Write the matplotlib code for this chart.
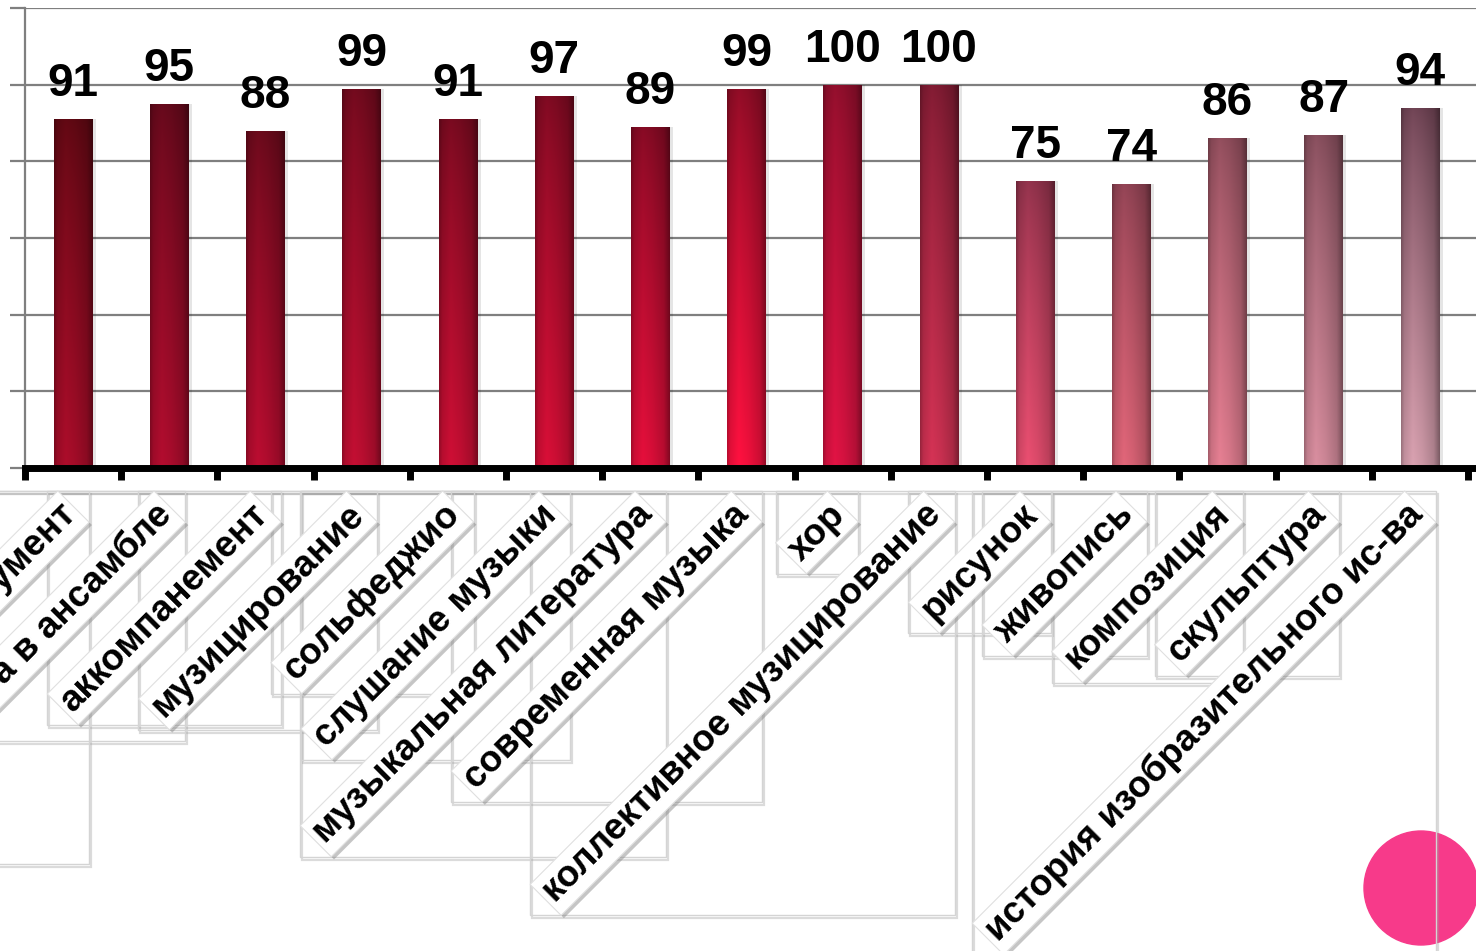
import numpy as np
import matplotlib
matplotlib.use('Agg')
import matplotlib.pyplot as plt
import matplotlib.patheffects as pe
from matplotlib.patches import Rectangle, Ellipse
from matplotlib.colors import to_rgb

plt.rcParams['font.family'] = ['Liberation Sans', 'DejaVu Sans']

subjects = ['специальный инструмент', 'игра в ансамбле', 'аккомпанемент', 'музицирование',
            'сольфеджио', 'слушание музыки', 'музыкальная литература', 'современная музыка',
            'хор', 'коллективное музицирование', 'рисунок', 'живопись', 'композиция',
            'скульптура', 'история изобразительного ис-ва']
scores = [91, 95, 88, 99, 91, 97, 89, 99, 100, 100, 75, 74, 86, 87, 94]

# bar shading: top (dark) and bottom (light) colour of each bar
top_colors = ['#5c0812', '#60091a', '#650a1a', '#6c0a1c', '#720a1e', '#780a20', '#7e0a22',
              '#880c24', '#8a0e2a', '#7a1a30', '#8a3048', '#8a4050', '#8a4a58', '#804a58', '#6a4050']
bottom_colors = ['#a20c28', '#a80c2c', '#b00c2e', '#b80e30', '#c20e32', '#cc0e34', '#d80e38',
                 '#f0103c', '#d41240', '#c83050', '#dc4a6a', '#d46072', '#d8788a', '#cc8696', '#cc98a6']

W, H = 1476, 951
fig = plt.figure(figsize=(W / 100, H / 100), dpi=100)
ax = fig.add_axes([25 / W, (H - 468) / H, (W - 25) / W, 460 / H])

x = np.arange(len(scores))
bw = 0.4

# soft shadow to the right of the bars
ax.bar(x + 0.035, scores, width=bw, color='black', alpha=0.10, zorder=2)
bars = ax.bar(x, scores, width=bw, color=bottom_colors, zorder=3)

u = np.linspace(0, 1, 40)
shade = np.interp(u, [0, 0.08, 0.3, 0.55, 0.85, 1], [0.78, 0.95, 1.07, 1.0, 0.86, 0.62])
t = np.linspace(0, 1, 120)[:, None]
for i, b in enumerate(bars):
    c0 = np.array(to_rgb(top_colors[i]))
    c1 = np.array(to_rgb(bottom_colors[i]))
    col = c0 + (c1 - c0) * t ** 0.8
    img = np.clip(col[:, None, :] * shade[None, :, None], 0, 1)
    im = ax.imshow(img, extent=[x[i] - bw / 2, x[i] + bw / 2, 0, scores[i]],
                   aspect='auto', zorder=4, interpolation='bilinear')
    im.set_clip_path(b)
    ax.annotate(str(scores[i]), xy=(x[i], scores[i]), xytext=(0, 16.5),
                textcoords='offset points', ha='center', va='baseline',
                fontsize=33, fontweight='bold', zorder=6, annotation_clip=False)

ax.set_xlim(-0.5, 14.5 + 8 / 96.2)
ax.set_ylim(0, 120)
ax.set_yticks(range(0, 121, 20))
ax.yaxis.grid(True, color='#7f7f7f', lw=1.6, zorder=1)
ax.set_axisbelow(True)
ax.tick_params(axis='y', length=11, width=1.6, color='#7f7f7f', labelleft=False)
ax.set_xticks(np.arange(-0.5, 15, 1))
ax.tick_params(axis='x', length=8.5, width=5, color='black', labelbottom=False)
for s in ['top', 'right']:
    ax.spines[s].set_visible(False)
ax.spines['left'].set_color('#7f7f7f')
ax.spines['left'].set_linewidth(1.6)
ax.spines['bottom'].set_color('black')
ax.spines['bottom'].set_linewidth(5)
ax.spines['bottom'].set_zorder(5)

labels = []
for i, name in enumerate(subjects):
    tx = ax.annotate(name, xy=(x[i], 0), xycoords=('data', 'axes fraction'),
                     xytext=(-11, -21), textcoords='offset points',
                     rotation=45, ha='right', va='top', rotation_mode='anchor',
                     fontsize=26.5, fontweight='bold', zorder=5, annotation_clip=False,
                     bbox=dict(boxstyle='square,pad=0.12', fc='white', ec='#e0e0e0', lw=0.8))
    tx.get_bbox_patch().set_path_effects([pe.withSimplePatchShadow(offset=(2, -2), shadow_rgbFace='gray', alpha=0.45)])
    labels.append(tx)

# pink dot in the corner
ax.add_patch(Ellipse((1421 / W, (H - 888) / H), 114 / W, 114 / H, color='#f73a8a',
                     transform=fig.transFigure, clip_on=False, zorder=0.5))

# upright frames around each rotated label
fig.canvas.draw()
rend = fig.canvas.get_renderer()
inv = fig.transFigure.inverted()
for tx in labels:
    bb = tx.get_bbox_patch().get_window_extent(rend)
    (x0, y0), (x1, y1) = inv.transform([[bb.x0, bb.y0], [bb.x1, bb.y1]])
    ax.add_patch(Rectangle((x0 + 2 / W, y0 - 3 / H), x1 - x0, y1 - y0, fill=False,
                           ec='#9a9a9a', lw=1.6, alpha=0.35, transform=fig.transFigure,
                           clip_on=False, zorder=0.8))
    ax.add_patch(Rectangle((x0, y0), x1 - x0, y1 - y0, fill=False, ec='#d4d4d4', lw=1,
                           transform=fig.transFigure, clip_on=False, zorder=0.9))

fig.savefig('out.png', dpi=100, facecolor='white')
